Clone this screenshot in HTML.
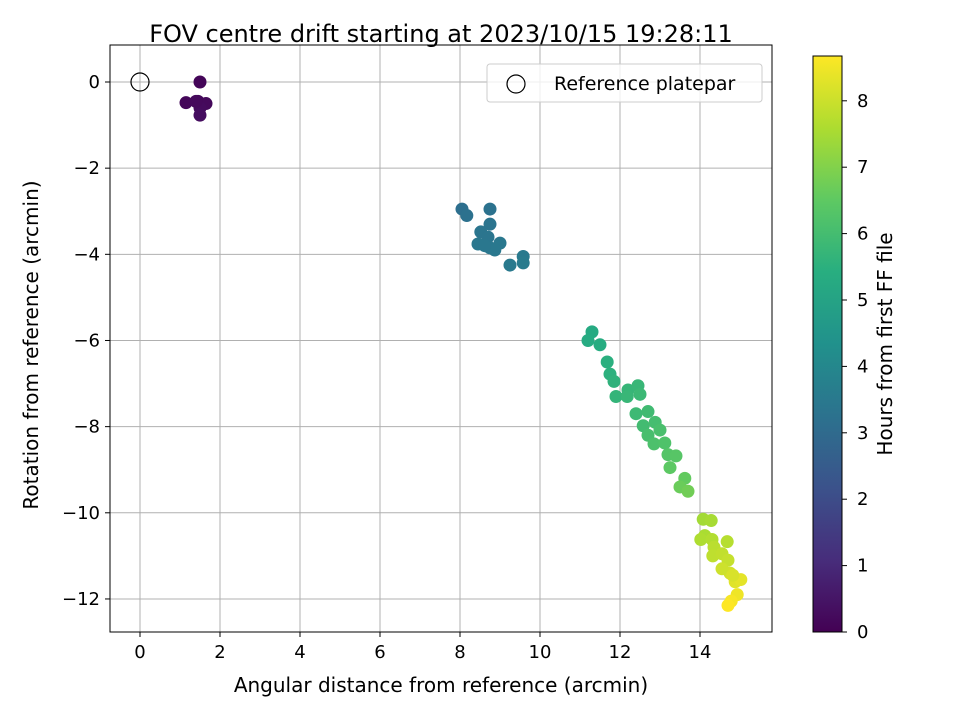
<!DOCTYPE html>
<html><head><meta charset="utf-8"><style>
html,body{margin:0;padding:0;background:#fff;overflow:hidden}
svg{display:block}
svg text{font-family:"DejaVu Sans","Liberation Sans",sans-serif;fill:#000}
</style></head><body>
<svg id="chart" width="960" height="720" xmlns="http://www.w3.org/2000/svg">
<defs>
<linearGradient id="vir" x1="0" y1="1" x2="0" y2="0">
<stop offset="0" stop-color="#440154"/><stop offset="0.125" stop-color="#472d7b"/><stop offset="0.25" stop-color="#3b528b"/><stop offset="0.375" stop-color="#2c728e"/><stop offset="0.5" stop-color="#21918c"/><stop offset="0.625" stop-color="#28ae80"/><stop offset="0.75" stop-color="#5ec962"/><stop offset="0.875" stop-color="#addc30"/><stop offset="1" stop-color="#fde725"/>
</linearGradient>
<clipPath id="clip"><rect x="110" y="45" width="662" height="587"/></clipPath>
</defs>
<text x="441" y="42" font-size="24" text-anchor="middle">FOV centre drift starting at 2023/10/15 19:28:11</text>
<g id="grid"></g>
<g id="points" clip-path="url(#clip)"></g>
<rect x="110" y="45" width="662" height="587" fill="none" stroke="#000" stroke-width="1"/>
<g id="ticks"></g>
<text x="441" y="692" font-size="20" text-anchor="middle">Angular distance from reference (arcmin)</text>
<text transform="translate(38,345) rotate(-90)" font-size="20" text-anchor="middle">Rotation from reference (arcmin)</text>
<g>
<rect x="487" y="64" width="275" height="38" rx="3" fill="#fff" fill-opacity="0.8" stroke="#ccc"/>
<circle cx="516" cy="84" r="9" fill="none" stroke="#000" stroke-width="1.2"/>
<text x="554" y="90" font-size="19">Reference platepar</text>
</g>
<rect x="813" y="56" width="29" height="576" fill="url(#vir)" stroke="#000" stroke-width="1"/>
<g id="cticks"></g>
<text transform="translate(892,344) rotate(-90)" font-size="20" text-anchor="middle">Hours from first FF file</text>
</svg>
<script>
const xs=[1.5,1.15,1.45,1.65,1.5,1.5,1.4,
8.05,8.17,8.75,8.75,8.52,8.7,8.45,8.75,9.0,8.87,9.25,9.58,9.58,8.62,
11.3,11.2,11.5,11.68,11.75,11.85,11.9,12.2,12.45,12.18,12.5,12.4,12.7,12.58,12.88,12.7,13.0,12.85,13.12,13.2,13.4,13.25,13.62,13.5,13.7,
14.08,14.28,14.12,14.02,14.3,14.68,14.35,14.32,14.55,14.7,14.75,14.55,14.88,15.02,14.93,14.78,14.7,14.82];
const ys=[0,-0.48,-0.45,-0.5,-0.6,-0.77,-0.45,
-2.95,-3.1,-2.95,-3.3,-3.48,-3.6,-3.76,-3.85,-3.74,-3.9,-4.25,-4.05,-4.2,-3.8,
-5.8,-6.0,-6.1,-6.5,-6.78,-6.95,-7.3,-7.15,-7.05,-7.3,-7.25,-7.7,-7.65,-7.98,-7.9,-8.2,-8.08,-8.4,-8.38,-8.65,-8.68,-8.95,-9.2,-9.4,-9.5,
-10.15,-10.18,-10.53,-10.62,-10.62,-10.67,-10.8,-11.0,-10.95,-11.1,-11.4,-11.3,-11.6,-11.55,-11.9,-12.05,-12.15,-11.45];
const hours=[0.1,0.15,0.2,0.2,0.25,0.3,0.2,
3.2,3.25,3.3,3.35,3.4,3.4,3.45,3.45,3.5,3.5,3.55,3.55,3.6,3.45,
5.3,5.35,5.4,5.5,5.55,5.6,5.7,5.75,5.8,5.8,5.85,5.9,5.95,6.0,6.05,6.1,6.15,6.2,6.25,6.35,6.4,6.5,6.6,6.7,6.8,
7.5,7.55,7.6,7.65,7.7,7.75,7.8,7.85,7.9,7.95,8.1,8.05,8.3,8.35,8.5,8.6,8.68,8.2];
const xTicks=[0,2,4,6,8,10,12,14];
const yTicks=[0,-2,-4,-6,-8,-10,-12];
const cTicks=[0,1,2,3,4,5,6,7,8];
const NS='http://www.w3.org/2000/svg';
const X=v=>140+v*40, Y=v=>82-v*43.08, C=v=>632-v*66.4;
const vir=[[68,1,84],[71,44,122],[59,81,139],[44,113,142],[33,144,140],[39,173,129],[92,200,99],[170,220,50],[253,231,37]];
function col(h){let t=Math.max(0,Math.min(1,h/8.68))*8;let i=Math.min(7,Math.floor(t)),f=t-i;
const a=vir[i],b=vir[i+1];return `rgb(${a.map((v,k)=>Math.round(v+(b[k]-v)*f)).join(',')})`;}
function mk(tag,at,parent){const e=document.createElementNS(NS,tag);for(const k in at)e.setAttribute(k,at[k]);parent.appendChild(e);return e;}
const g=document.getElementById('grid'),tk=document.getElementById('ticks'),pt=document.getElementById('points'),ct=document.getElementById('cticks');
xTicks.forEach(v=>{
const l=mk('line',{x1:X(v),x2:X(v),y1:45,y2:632,stroke:'#b0b0b0','stroke-width':1},g);


mk('line',{x1:X(v),x2:X(v),y1:632,y2:637,stroke:'#000'},tk);
const t=mk('text',{x:X(v),y:658,'font-size':18,'text-anchor':'middle'},tk);t.textContent=v;


});
yTicks.forEach(v=>{
const l=mk('line',{x1:110,x2:772,y1:Y(v),y2:Y(v),stroke:'#b0b0b0','stroke-width':1},g);


mk('line',{x1:105,x2:110,y1:Y(v),y2:Y(v),stroke:'#000'},tk);
const t=mk('text',{x:100,y:Y(v)+6,'font-size':18,'text-anchor':'end'},tk);t.textContent=v<0?'\u2212'+(-v):v;


});
xs.forEach((x,i)=>{
const c=mk('circle',{cx:X(x),cy:Y(ys[i]),r:6.5,fill:col(hours[i])},pt);


});
const ref=mk('circle',{cx:X(0),cy:Y(0),r:9,fill:'none',stroke:'#000','stroke-width':1.2},pt);


cTicks.forEach(v=>{
mk('line',{x1:842,x2:847,y1:C(v),y2:C(v),stroke:'#000'},ct);
const t=mk('text',{x:857,y:C(v)+6,'font-size':18},ct);t.textContent=v;


});
</script>
</body></html>
